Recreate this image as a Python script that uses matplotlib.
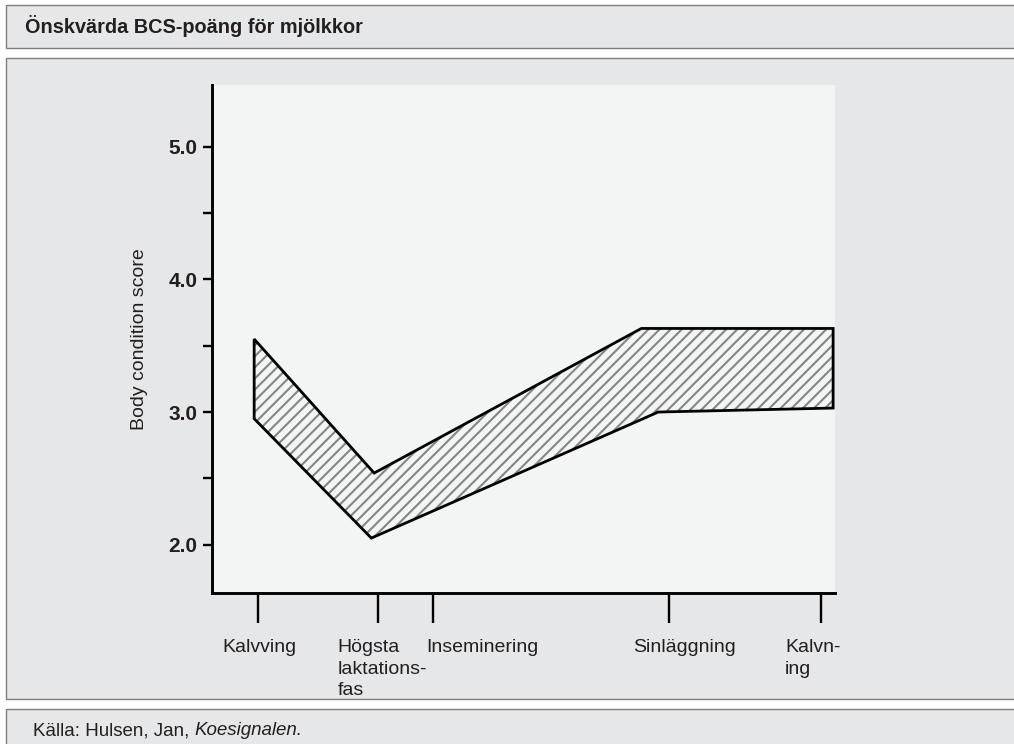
"""Önskvärda BCS-poäng för mjölkkor."""

import matplotlib.pyplot as plt
from matplotlib.patches import Rectangle

plt.rcParams["font.family"] = "Liberation Sans"
plt.rcParams["hatch.linewidth"] = 1.5

# events along the lactation (x in months after calving)
events = ["Kalvving", "Högsta\nlaktations-\nfas", "Inseminering", "Sinläggning", "Kalvn-\ning"]
event_x = [0.0, 2.56, 3.73, 8.76, 12.0]

# desired BCS band
upper_x = [-0.09, 2.47, 8.17, 12.26]
upper_y = [3.55, 2.54, 3.63, 3.63]
lower_x = [-0.09, 2.41, 8.53, 12.26]
lower_y = [2.95, 2.05, 3.00, 3.03]

major_y = [2.0, 3.0, 4.0, 5.0]
minor_y = [2.5, 3.5, 4.5]

title = "Önskvärda BCS-poäng för mjölkkor"
ylabel = "Body condition score"
source = "Källa: Hulsen, Jan, "
source_title = "Koesignalen."

W, H = 1014, 744
PANEL = "#e6e7e8"
PLOT_BG = "#f3f4f4"
BORDER = "#7d7d7d"
TEXT = "#231f20"


def fx(px):
    return px / W


def fy(py):
    return 1 - py / H


def panel(fig, x0, y0, x1, y1):
    fig.add_artist(Rectangle((fx(x0), fy(y1)), fx(x1) - fx(x0), fy(y0) - fy(y1),
                             transform=fig.transFigure, facecolor=PANEL,
                             edgecolor=BORDER, linewidth=1.0, zorder=-10))


fig = plt.figure(figsize=(W / 100, H / 100), dpi=100, facecolor="white")
panel(fig, 5.5, 5, 1030, 47.5)
panel(fig, 5.5, 57.5, 1030, 698.5)
panel(fig, 5.5, 709, 1030, 760)

fig.text(fx(25), fy(33), title, fontsize=14.3, fontweight="bold", color=TEXT,
         ha="left", va="baseline")
src = fig.text(fx(33), fy(735), source, fontsize=13.5, color=TEXT,
               ha="left", va="baseline")
bb = src.get_window_extent(renderer=fig.canvas.get_renderer())
fig.text(bb.x1 / W, fy(735), source_title, fontsize=13.5, color=TEXT,
         style="italic", ha="left", va="baseline")

ax = fig.add_axes([fx(211.5), fy(593), fx(835) - fx(211.5), fy(85) - fy(593)])
ax.set_facecolor(PLOT_BG)

poly_x = upper_x + lower_x[::-1]
poly_y = upper_y + lower_y[::-1]
ax.fill(poly_x, poly_y, facecolor="none", edgecolor="#858585", hatch="///",
        linewidth=0, zorder=2)
ax.fill(poly_x, poly_y, fill=False, edgecolor="black", linewidth=2.0,
        joinstyle="miter", zorder=3, clip_on=False)

ax.set_xlim(-1.0, 12.3)
ax.set_ylim(1.636, 5.465)

for side in ["top", "right"]:
    ax.spines[side].set_visible(False)
for side in ["left", "bottom"]:
    ax.spines[side].set_linewidth(2.1)
    ax.spines[side].set_color("black")

ax.set_yticks(major_y)
ax.set_yticklabels([f"{v:.1f}" for v in major_y], fontsize=15,
                   fontweight="bold", color=TEXT)
ax.set_yticks(minor_y, minor=True)
ax.tick_params(axis="y", which="both", direction="out", length=6.5, width=1.7,
               pad=3.5)

ax.set_xticks(event_x)
ax.set_xticklabels([])
ax.tick_params(axis="x", direction="out", length=21.5, width=1.7)

# label placement relative to each tick (pixels)
label_style = [("center", 1), ("left", -41), ("left", -7), ("left", -36), ("left", -36)]
for name, x, (ha, dx) in zip(events, event_x, label_style):
    ax.annotate(name, xy=(x, 0), xycoords=("data", "axes fraction"),
                xytext=(dx, -46), textcoords="offset pixels", ha=ha, va="top",
                multialignment="left", linespacing=1.35, fontsize=14,
                color=TEXT, annotation_clip=False)

ax.set_ylabel(ylabel, fontsize=14, color=TEXT, labelpad=15)

fig.savefig("out.png", dpi=100)
